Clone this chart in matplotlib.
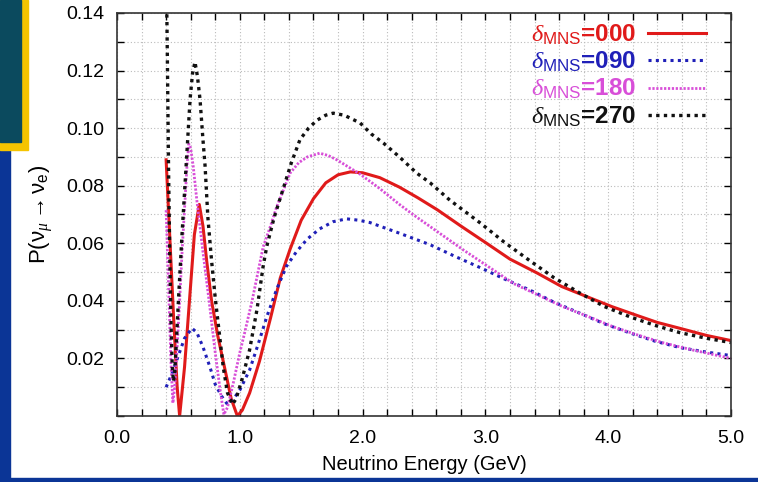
import matplotlib
matplotlib.use('Agg')
import matplotlib.pyplot as plt
from matplotlib.patches import Rectangle
import numpy as np

plt.rcParams['font.family'] = ['Liberation Sans', 'DejaVu Sans']
plt.rcParams['mathtext.fontset'] = 'custom'
plt.rcParams['mathtext.rm'] = 'Liberation Sans'
plt.rcParams['mathtext.it'] = 'Liberation Serif:italic'

# Oscillation probability vs neutrino energy
red_x = [0.40, 0.43, 0.46, 0.49, 0.51, 0.55, 0.59, 0.63, 0.67, 0.70, 0.73, 0.77, 0.82, 0.88,
         0.93, 0.98, 1.02, 1.08, 1.16, 1.25, 1.33, 1.41, 1.50, 1.60, 1.70, 1.80, 1.90, 2.00,
         2.14, 2.30, 2.45, 2.61, 2.80, 3.01, 3.20, 3.42, 3.62, 3.83, 4.03, 4.23, 4.40, 4.58,
         4.80, 5.00]
red_y = [0.089, 0.062, 0.035, 0.010, 0.000, 0.017, 0.040, 0.063, 0.0735, 0.066, 0.054, 0.040,
         0.028, 0.016, 0.006, 0.000, 0.002, 0.008, 0.019, 0.034, 0.048, 0.058, 0.068, 0.0755,
         0.081, 0.0838, 0.0848, 0.0845, 0.0828, 0.0795, 0.0758, 0.0716, 0.066, 0.060, 0.0545,
         0.0497, 0.045, 0.0414, 0.038, 0.035, 0.0325, 0.0305, 0.028, 0.0262]

blue_x = [0.40, 0.45, 0.50, 0.55, 0.61, 0.65, 0.70, 0.757, 0.80, 0.85, 0.90, 0.95, 1.00, 1.08,
          1.15, 1.22, 1.30, 1.38, 1.46, 1.55, 1.65, 1.76, 1.87, 1.97, 2.06, 2.30, 2.55, 2.75,
          2.96, 3.16, 3.36, 3.56, 3.77, 3.97, 4.18, 4.38, 4.58, 4.80, 5.00]
blue_y = [0.010, 0.015, 0.021, 0.027, 0.0305, 0.029, 0.024, 0.017, 0.011, 0.007, 0.004, 0.006,
          0.009, 0.016, 0.025, 0.0345, 0.044, 0.052, 0.057, 0.0615, 0.065, 0.0675, 0.0685,
          0.068, 0.0672, 0.0635, 0.0595, 0.0555, 0.0515, 0.0475, 0.0438, 0.0395, 0.0357,
          0.032, 0.0288, 0.026, 0.0238, 0.0222, 0.021]

purple_x = [0.40, 0.42, 0.44, 0.455, 0.47, 0.49, 0.51, 0.53, 0.554, 0.57, 0.585, 0.60, 0.62,
            0.65, 0.70, 0.75, 0.80, 0.84, 0.87, 0.90, 0.95, 1.00, 1.04, 1.10, 1.19, 1.25, 1.30,
            1.36, 1.41, 1.48, 1.55, 1.65, 1.72, 1.79, 1.98, 2.14, 2.30, 2.41, 2.71, 2.82, 3.02,
            3.23, 3.43, 3.63, 3.84, 4.04, 4.25, 4.45, 4.70, 5.00]
purple_y = [0.0715, 0.045, 0.018, 0.0045, 0.010, 0.024, 0.040, 0.057, 0.075, 0.087, 0.0945,
            0.093, 0.087, 0.075, 0.057, 0.040, 0.022, 0.009, 0.0005, 0.003, 0.012, 0.022, 0.029,
            0.040, 0.0587, 0.066, 0.0726, 0.079, 0.0844, 0.088, 0.090, 0.0913, 0.0905, 0.089,
            0.084, 0.079, 0.0735, 0.070, 0.061, 0.0577, 0.052, 0.046, 0.042, 0.038, 0.0345,
            0.031, 0.028, 0.0254, 0.0228, 0.020]

black_x = [0.40, 0.41, 0.42, 0.43, 0.44, 0.45, 0.46, 0.47, 0.485, 0.50, 0.53, 0.57, 0.595, 0.615,
           0.635, 0.655, 0.676, 0.70, 0.717, 0.74, 0.77, 0.80, 0.865, 0.90, 0.94, 0.97, 1.02,
           1.08, 1.14, 1.19, 1.22, 1.28, 1.35, 1.42, 1.49, 1.56, 1.63, 1.70, 1.76, 1.85, 1.98,
           2.07, 2.17, 2.30, 2.44, 2.55, 2.71, 2.96, 3.15, 3.36, 3.56, 3.77, 3.97, 4.18, 4.38,
           4.58, 4.80, 5.00]
black_y = [0.16, 0.125, 0.085, 0.055, 0.032, 0.017, 0.012, 0.015, 0.027, 0.040, 0.0635, 0.092,
           0.110, 0.119, 0.123, 0.118, 0.110, 0.096, 0.087, 0.069, 0.054, 0.041, 0.017, 0.008,
           0.004, 0.006, 0.013, 0.023, 0.037, 0.052, 0.059, 0.069, 0.0785, 0.088, 0.096, 0.100,
           0.1028, 0.1045, 0.1052, 0.1045, 0.1018, 0.098, 0.0948, 0.090, 0.0844, 0.081, 0.075,
           0.067, 0.0605, 0.054, 0.048, 0.0427, 0.038, 0.0344, 0.0315, 0.029, 0.027, 0.0255]

labels = ['000', '090', '180', '270']
colors = ['#e01a1a', '#2020b8', '#d84fd8', '#111111']

fig = plt.figure(figsize=(7.58, 4.82), dpi=100)
fig.patch.set_facecolor('white')

# slide decorations around the plot
fig.patches.append(Rectangle((0, 0), 10 / 758, 1, transform=fig.transFigure,
                             color='#0b3596', zorder=0))
fig.patches.append(Rectangle((0, 0), 1, 4 / 482, transform=fig.transFigure,
                             color='#0b3596', zorder=0))
fig.patches.append(Rectangle((0, 1 - 150 / 482), 28 / 758, 150 / 482, transform=fig.transFigure,
                             color='#f5c400', zorder=0))
fig.patches.append(Rectangle((0, 1 - 142 / 482), 21 / 758, 142 / 482, transform=fig.transFigure,
                             color='#0b4a5e', zorder=0))

ax = fig.add_axes([117 / 758, 66 / 482, 614 / 758, 403 / 482])

ax.plot(red_x, red_y, color=colors[0], lw=2.2, linestyle='-')
ax.plot(blue_x, blue_y, color=colors[1], lw=2.2, linestyle=(0, (1, 1.4)))
ax.plot(purple_x, purple_y, color=colors[2], lw=2.0, linestyle=(0, (0.8, 0.6)))
ax.plot(black_x, black_y, color=colors[3], lw=2.4, linestyle=(0, (1, 1.3)))

ax.set_xlim(0, 5)
ax.set_ylim(0, 0.14)

xt = np.round(np.arange(0, 5.01, 0.2), 1)
ax.set_xticks(xt)
ax.set_xticklabels([f'{v:.1f}' if abs(v - round(v)) < 1e-6 else '' for v in xt])
yt = np.round(np.arange(0, 0.1401, 0.01), 2)
ax.set_yticks(yt)
ax.set_yticklabels([f'{v:.2f}' if (round(v * 100) % 2 == 0 and v > 0) else '' for v in yt])

ax.tick_params(direction='in', length=5, width=1, top=True, right=True, labelsize=14)
ax.tick_params(axis='x', pad=10)
ax.tick_params(axis='y', pad=9)
ax.grid(True, color='#bbbbbb', linestyle=(0, (1, 2)), linewidth=0.8)
for s in ax.spines.values():
    s.set_linewidth(1.2)
    s.set_color('#333333')

ax.set_xlabel('Neutrino Energy (GeV)', fontsize=14.5, labelpad=6)
ax.set_ylabel(r'P($\mathrm{\nu}_{\mu} \rightarrow \mathrm{\nu}_{\rm e}$)', fontsize=16, labelpad=8)

handles = ax.get_lines()
leg = ax.legend(handles, [r'$\delta_{\rm MNS}$=' + l for l in labels], loc='upper right',
                bbox_to_anchor=(0.9756, 1.0), borderaxespad=0,
                frameon=False, markerfirst=False, handlelength=2.4, handletextpad=0.5,
                fontsize=17.5, labelspacing=0.12, labelcolor=colors)
for t in leg.get_texts():
    t.set_fontweight('bold')

fig.savefig('out.png', dpi=100)
